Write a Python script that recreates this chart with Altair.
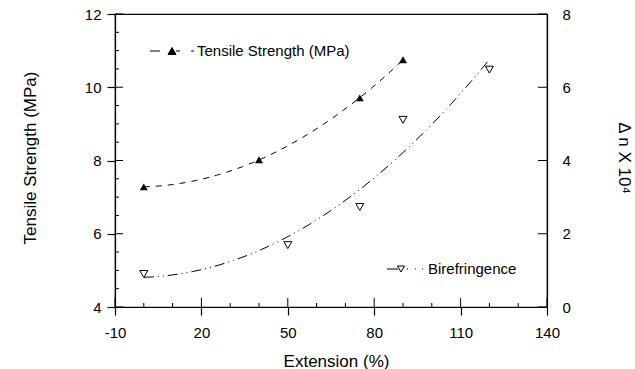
import altair as alt
import pandas as pd

# ---- data ----
ext_tensile = [0, 40, 75, 90]
tensile = [7.28, 8.02, 9.71, 10.75]
ext_biref = [0, 50, 75, 90, 120]
biref = [0.90, 1.69, 2.73, 5.11, 6.48]

x_ticks = [-10, 20, 50, 80, 110, 140]
x_minor = [0, 10, 30, 40, 60, 70, 90, 100, 120, 130]
yl_ticks = [4, 6, 8, 10, 12]
yl_minor = [4.5, 5, 5.5, 6.5, 7, 7.5, 8.5, 9, 9.5, 10.5, 11, 11.5]
yr_ticks = [0, 2, 4, 6, 8]

W, H = 432, 293
FONT = "Liberation Sans"
LBL = "datum.value + ''"

df_t = pd.DataFrame({"ext": ext_tensile, "val": tensile})
df_b = pd.DataFrame({"ext": ext_biref, "val": biref})

x_enc = alt.X(
    "ext:Q",
    scale=alt.Scale(domain=[-10, 140], nice=False, zero=False),
    axis=alt.Axis(values=x_ticks, title="Extension (%)", tickSize=8, labelPadding=10,
                  labelFlush=False, labelExpr=LBL,
                  titleX=221, titleY=46, titleBaseline="top", titleFontSize=17),
)
yl_enc = alt.Y(
    "val:Q",
    scale=alt.Scale(domain=[4, 12], nice=False, zero=False),
    axis=alt.Axis(values=yl_ticks, title="Tensile Strength (MPa)", orient="left", tickSize=8,
                  labelPadding=6, labelFlush=False, labelExpr=LBL,
                  titleX=-76, titleY=143.5, titleAngle=-90,
                  titleBaseline="bottom", titleFontSize=17),
)
yr_enc = alt.Y(
    "val:Q",
    scale=alt.Scale(domain=[0, 8], nice=False, zero=False),
    axis=alt.Axis(values=yr_ticks, title="Δ n X 10⁴", orient="right", ticks=False, tickSize=0,
                  labelPadding=15, labelFlush=False, labelExpr=LBL,
                  titleX=67, titleY=143.5, titleAngle=90,
                  titleBaseline="bottom", titleFontSize=17),
)

path_t = "M-4.4,0H-2.4M0.8,0H1.6M3.8,0H4.4M-0.8,0.7L0.8,0.7L0,-0.7Z"
path_b = "M-2.8,0H-0.6M1.2,0H1.4M2.8,0H3.0M4.2,0H4.4M-0.7,-0.6L0.7,-0.6L0,0.6Z"

# ---- tensile group (left axis) ----
t_line = alt.Chart(df_t).transform_regression(
    "ext", "val", method="poly", order=2, extent=[0, 90]
).mark_line(color="black", strokeWidth=1, strokeDash=[6, 6]).encode(x=x_enc, y=yl_enc)

t_pts = alt.Chart(df_t).mark_point(
    shape="triangle-up", filled=True, color="black", size=64, opacity=1
).encode(x=x_enc, y=yl_enc)

t_leg = alt.Chart(df_t).transform_calculate(lbl="'Tensile Strength (MPa)'").transform_filter(
    "false"
).mark_point(fill="black", stroke="black", strokeWidth=1, opacity=1, filled=True).encode(
    shape=alt.Shape(
        "lbl:N",
        scale=alt.Scale(domain=["Tensile Strength (MPa)"], range=[path_t]),
        legend=alt.Legend(orient="none", legendX=49.5, legendY=29.5, title=None, padding=0,
                          symbolSize=100, labelOffset=17.5, labelFontSize=15, labelFont=FONT,
                          labelColor="black", symbolStrokeWidth=1),
    )
)

xmaj_in = alt.Chart(pd.DataFrame({"ext": x_ticks})).mark_rule(color="black", strokeWidth=1).encode(
    x=x_enc, y=alt.value(H), y2=alt.value(H - 9))
xmin_in = alt.Chart(pd.DataFrame({"ext": x_minor})).mark_rule(color="black", strokeWidth=1).encode(
    x=x_enc, y=alt.value(H), y2=alt.value(H - 4))
ylmaj_in = alt.Chart(pd.DataFrame({"val": yl_ticks})).mark_rule(color="black", strokeWidth=1).encode(
    y=yl_enc, x=alt.value(0), x2=alt.value(8))
ylmin_in = alt.Chart(pd.DataFrame({"val": yl_minor})).mark_rule(color="black", strokeWidth=1).encode(
    y=yl_enc, x=alt.value(0), x2=alt.value(4))

tens_group = alt.layer(t_line, t_pts, t_leg, xmaj_in, xmin_in, ylmaj_in, ylmin_in)

# ---- birefringence group (right axis) ----
b_line = alt.Chart(df_b).transform_regression(
    "ext", "val", method="poly", order=2, extent=[0, 120]
).mark_line(color="black", strokeWidth=1, strokeDash=[10, 4, 1, 4, 1, 4]).encode(x=x_enc, y=yr_enc)

b_pts = alt.Chart(df_b).mark_point(
    shape="triangle-down", filled=False, color="black", size=64, strokeWidth=1, opacity=1
).encode(x=x_enc, y=yr_enc)

b_leg = alt.Chart(df_b).transform_calculate(lbl="'Birefringence'").transform_filter(
    "false"
).mark_point(fill="white", stroke="black", strokeWidth=1, opacity=1, filled=False).encode(
    shape=alt.Shape(
        "lbl:N",
        scale=alt.Scale(domain=["Birefringence"], range=[path_b]),
        legend=alt.Legend(orient="none", legendX=278.5, legendY=247.5, title=None, padding=0,
                          symbolSize=100, labelOffset=19.5, labelFontSize=15, labelFont=FONT,
                          labelColor="black", symbolStrokeWidth=1),
    )
)

yrmaj_in = alt.Chart(pd.DataFrame({"val": yr_ticks})).mark_rule(color="black", strokeWidth=1).encode(
    y=yr_enc, x=alt.value(W), x2=alt.value(W - 9))

bire_group = alt.layer(b_line, b_pts, b_leg, yrmaj_in)

chart = alt.layer(tens_group, bire_group).resolve_scale(
    y="independent", shape="independent"
).properties(
    width=W, height=H,
    autosize=alt.AutoSizeParams(type="none"),
    padding={"left": 115, "top": 14, "right": 88, "bottom": 62},
    background="white",
).configure_view(stroke="black", strokeWidth=1.2).configure_axis(
    domainColor="black", domainWidth=1.2, tickColor="black", tickWidth=1.2,
    labelColor="black", titleColor="black", labelFont=FONT, titleFont=FONT,
    labelFontSize=15, titleFontWeight="normal", grid=False,
)

chart.save("out.html", embed_options={"renderer": "svg", "actions": False})
